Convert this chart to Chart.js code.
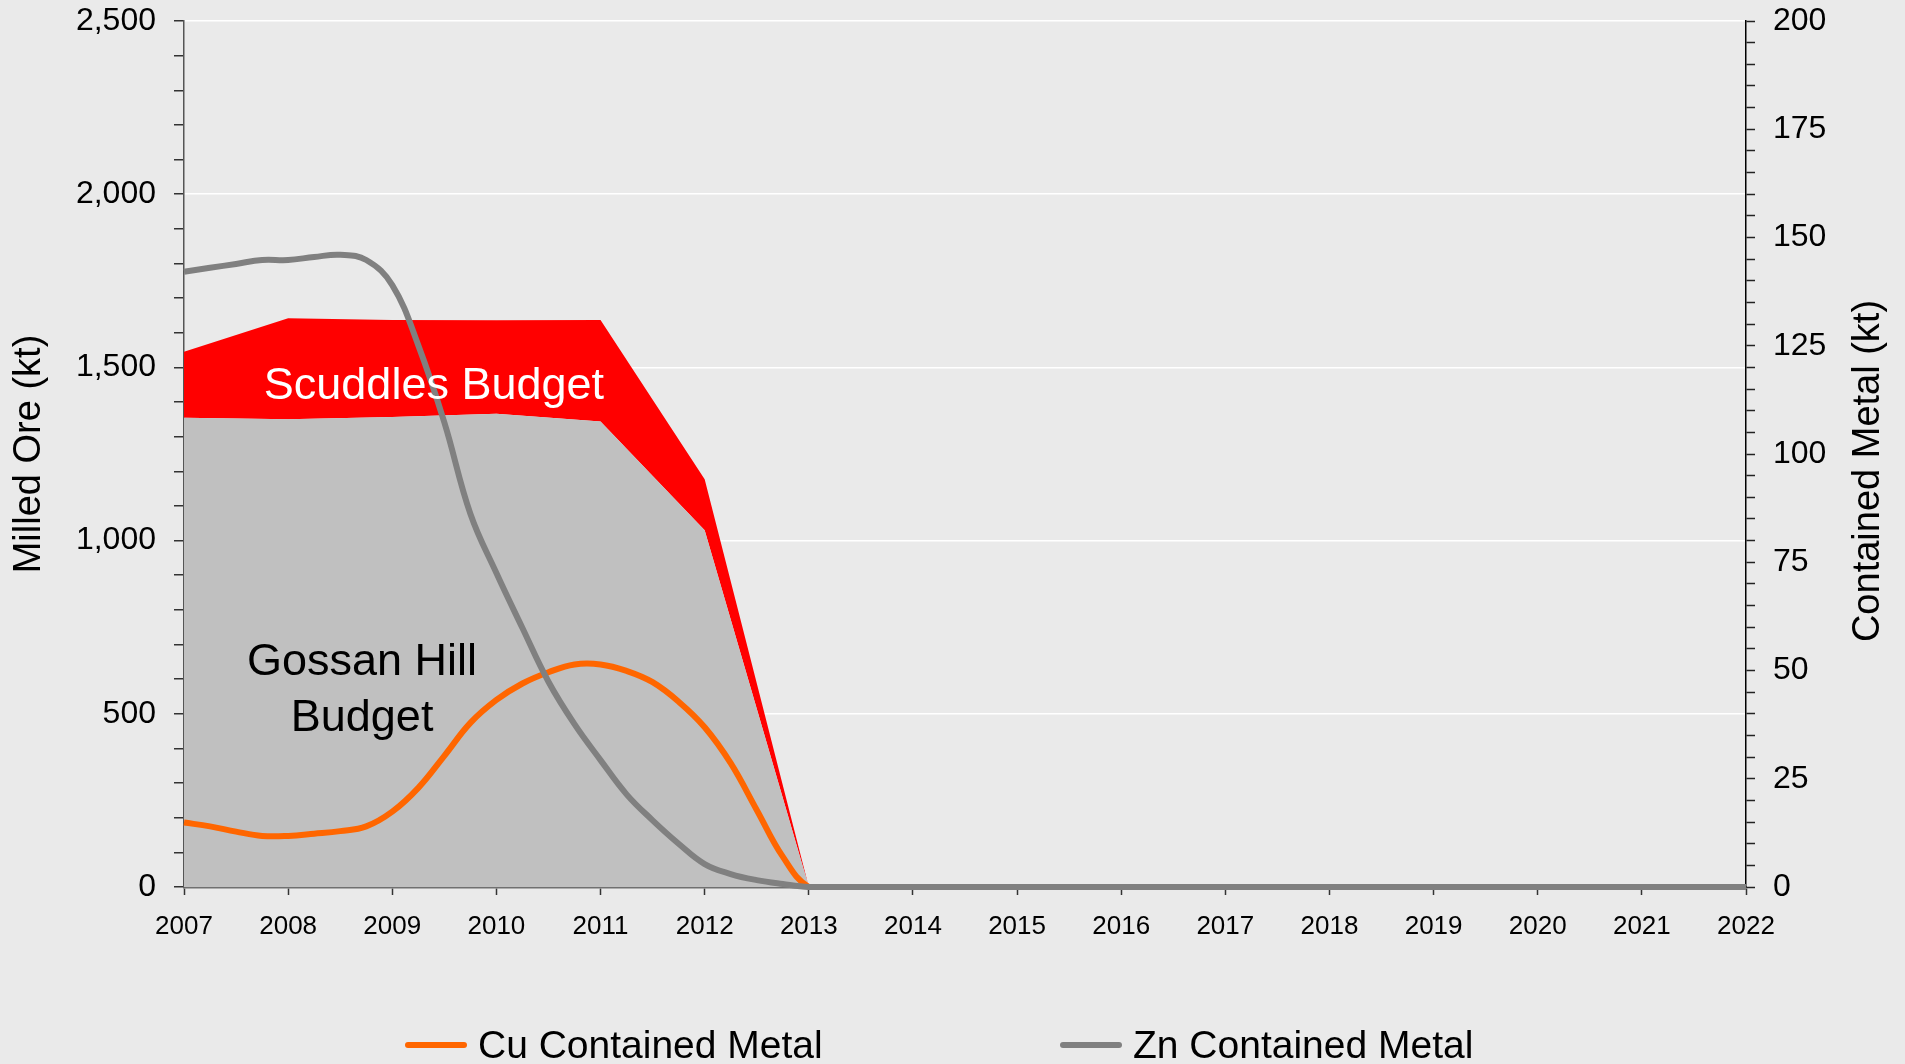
<!DOCTYPE html>
<html>
<head>
<meta charset="utf-8">
<title>Milled Ore and Contained Metal</title>
<script src="https://cdn.jsdelivr.net/npm/chart.js@4.4.1/dist/chart.umd.min.js"></script>
<style>
  html, body { margin: 0; padding: 0; background: #eaeaea; overflow: hidden; }
  #wrap { position: relative; width: 1905px; height: 1064px; }
  #chart { position: absolute; left: 0; top: 0; }
  .legend-item {
    position: absolute; top: 1022px; height: 46px;
    display: flex; align-items: center; white-space: nowrap;
    font: 39px 'Liberation Sans', Arial, sans-serif; color: #000;
  }
  .swatch { width: 62px; height: 6px; border-radius: 3px; margin-right: 11px; }
</style>
</head>
<body>
<div id="wrap">
  <canvas id="chart" width="1905" height="1064"></canvas>
  <div class="legend-item" style="left:405px"><span class="swatch" style="background:#ff6600"></span>Cu Contained Metal</div>
  <div class="legend-item" style="left:1060px"><span class="swatch" style="background:#808080"></span>Zn Contained Metal</div>
</div>
<script>
const FONT = "'Liberation Sans', Arial, sans-serif";

// milled ore budgets (kt), one value per year
const areaYears = [2007, 2008, 2009, 2010, 2011, 2012, 2013, 2014, 2015, 2016, 2017, 2018, 2019, 2020, 2021, 2022];
const gossanHill = [1355, 1350, 1357, 1366, 1344, 1030, 0, 0, 0, 0, 0, 0, 0, 0, 0, 0];
const scuddles = [190, 292, 280, 270, 293, 147, 0, 0, 0, 0, 0, 0, 0, 0, 0, 0];

// contained metal (kt), quarterly until 2014 then yearly
const lineYears = [
  2007, 2007.25, 2007.5, 2007.75,
  2008, 2008.25, 2008.5, 2008.75,
  2009, 2009.25, 2009.5, 2009.75,
  2010, 2010.25, 2010.5, 2010.75,
  2011, 2011.25, 2011.5, 2011.75,
  2012, 2012.25, 2012.5, 2012.75,
  2013, 2013.25, 2013.5, 2013.75,
  2014, 2015, 2016, 2017, 2018, 2019, 2020, 2021, 2022
];
const cuMetal = [
  14.9, 14.0, 12.8, 11.8,
  11.8, 12.3, 12.9, 14.0,
  17.4, 22.9, 30.3, 37.9,
  43.2, 47.0, 49.6, 51.4,
  51.4, 49.9, 47.3, 42.8,
  36.9, 28.6, 17.8, 7.0,
  0, 0, 0, 0,
  0, 0, 0, 0, 0, 0, 0, 0, 0
];
const znMetal = [
  142.1, 143.0, 143.9, 144.8,
  144.8, 145.5, 146.0, 144.8,
  139.0, 125.1, 107.3, 86.2,
  72.5, 59.8, 47.4, 37.6,
  29.3, 21.4, 15.4, 10.0,
  5.3, 3.0, 1.6, 0.7,
  0, 0, 0, 0,
  0, 0, 0, 0, 0, 0, 0, 0, 0
];

const pairs = (xs, ys) => xs.map((x, i) => ({ x: x, y: ys[i] }));

// text boxes sitting on top of the plot, plus the right axis title (reads bottom to top)
const overlayText = {
  id: 'overlayText',
  afterDraw(chart) {
    const { ctx, scales: { x, y } } = chart;
    ctx.save();
    ctx.textAlign = 'center';
    ctx.textBaseline = 'middle';
    ctx.font = '45px ' + FONT;
    ctx.fillStyle = '#ffffff';
    ctx.fillText('Scuddles Budget', x.getPixelForValue(2009.4), y.getPixelForValue(1445));
    ctx.fillStyle = '#000000';
    ctx.fillText('Gossan Hill', x.getPixelForValue(2008.71), y.getPixelForValue(648));
    ctx.fillText('Budget', x.getPixelForValue(2008.71), y.getPixelForValue(486));
    ctx.font = '38px ' + FONT;
    ctx.translate(1869, 471);
    ctx.rotate(-Math.PI / 2);
    ctx.fillText('Contained Metal (kt)', 0, 0);
    ctx.restore();
  }
};

// fixed axis boxes so the plot area lands where the original has it
const fixWidth = w => s => { s.width = w; s.paddingTop = 0; s.paddingBottom = 0; };

Chart.defaults.font.family = FONT;
Chart.defaults.color = '#000';

new Chart(document.getElementById('chart'), {
  type: 'line',
  data: {
    datasets: [
      {
        label: 'Zn Contained Metal', data: pairs(lineYears, znMetal), yAxisID: 'y2',
        borderColor: '#808080', borderWidth: 6, pointRadius: 0, tension: 0.4, fill: false, clip: false, order: 0
      },
      {
        label: 'Cu Contained Metal', data: pairs(lineYears, cuMetal), yAxisID: 'y2',
        borderColor: '#ff6600', borderWidth: 6, pointRadius: 0, tension: 0.4, fill: false, clip: false, order: 1
      },
      {
        label: 'Gossan Hill Budget', data: pairs(areaYears, gossanHill), yAxisID: 'y',
        backgroundColor: '#c0c0c0', borderWidth: 0, pointRadius: 0, tension: 0, fill: 'origin', order: 2
      },
      {
        label: 'Scuddles Budget', data: pairs(areaYears, scuddles), yAxisID: 'y',
        backgroundColor: '#ff0000', borderWidth: 0, pointRadius: 0, tension: 0, fill: '-1', order: 3
      }
    ]
  },
  options: {
    responsive: false,
    devicePixelRatio: 1,
    animation: false,
    layout: { padding: { top: 21, bottom: 117, left: 0, right: 0 } },
    plugins: {
      legend: { display: false },
      tooltip: { enabled: false }
    },
    scales: {
      x: {
        type: 'linear', min: 2007, max: 2022,
        ticks: { stepSize: 1, autoSkip: false, maxRotation: 0, padding: 16, font: { size: 26 }, callback: v => String(v) },
        grid: { drawOnChartArea: false, tickLength: 8, tickColor: '#333', tickWidth: 1.5 },
        border: { color: '#707070', width: 2.5 },
        afterFit: s => { s.height = 60; }
      },
      y: {
        position: 'left', stacked: true, min: 0, max: 2500,
        ticks: {
          stepSize: 100, autoSkip: false, padding: 18, font: { size: 32 },
          callback: v => (v % 500 === 0 ? v.toLocaleString('en-US') : '')
        },
        grid: {
          color: c => (c.tick && c.tick.value > 0 && c.tick.value % 500 === 0 ? '#ffffff' : 'rgba(0,0,0,0)'),
          lineWidth: 1.5, tickLength: 10, tickColor: '#333', tickWidth: 1.5
        },
        border: { color: '#555', width: 1.5 },
        title: { display: true, text: 'Milled Ore (kt)', font: { size: 38 }, padding: { top: 7, bottom: 0 } },
        afterFit: fixWidth(184)
      },
      y2: {
        position: 'right', min: 0, max: 200,
        ticks: {
          stepSize: 5, autoSkip: false, padding: 18, font: { size: 32 },
          callback: v => (v % 25 === 0 ? String(v) : '')
        },
        grid: { drawOnChartArea: false, tickLength: 9, tickColor: '#222', tickWidth: 1.5 },
        border: { color: '#000', width: 1.5 },
        afterFit: fixWidth(159)
      }
    }
  },
  plugins: [overlayText]
});
</script>
</body>
</html>
